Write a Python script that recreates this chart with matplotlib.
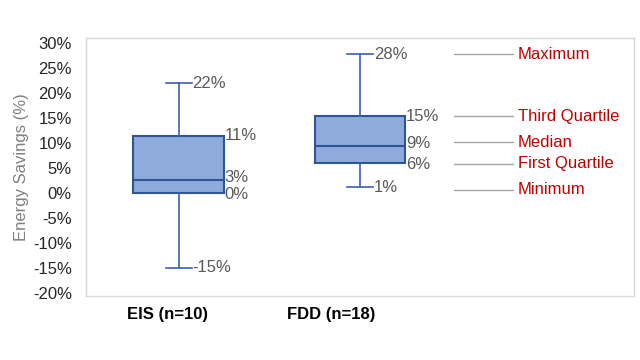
import matplotlib
matplotlib.use("Agg")
from matplotlib import pyplot as plt
from matplotlib.ticker import PercentFormatter

plt.rcParams['font.family'] = ['Liberation Sans', 'DejaVu Sans']
plt.rcParams['axes.unicode_minus'] = False

# box plot summary values (fractions)
groups = ['EIS (n=10)', 'FDD (n=18)']
minimum = [-0.15, 0.011]
first_quartile = [0.0, 0.060]
median = [0.026, 0.094]
third_quartile = [0.114, 0.153]
maximum = [0.219, 0.277]

# legend captions for the right-hand key (tied to the FDD box)
key_names = ['Maximum', 'Third Quartile', 'Median', 'First Quartile', 'Minimum']

yticks = [-0.20, -0.15, -0.10, -0.05, 0.0, 0.05, 0.10, 0.15, 0.20, 0.25, 0.30]

box_face = '#8FAADC'
box_edge = '#2F5597'
whisker = '#3A62B0'
label_gray = '#595959'
key_red = '#C00000'

fig = plt.figure(figsize=(6.4, 3.6), dpi=100)
ax = fig.add_axes([0.134, 0.178, 0.856, 0.717])

positions = [1, 2]
stats = []
for i in range(len(groups)):
    stats.append({'med': median[i], 'q1': first_quartile[i], 'q3': third_quartile[i],
                  'whislo': minimum[i], 'whishi': maximum[i], 'fliers': [],
                  'label': groups[i]})

ax.bxp(stats, positions=positions, widths=0.5, capwidths=0.143, patch_artist=True,
       showfliers=False,
       boxprops=dict(facecolor=box_face, edgecolor=box_edge, linewidth=1.5),
       medianprops=dict(color=box_edge, linewidth=1.5),
       whiskerprops=dict(color=whisker, linewidth=1.2),
       capprops=dict(color=whisker, linewidth=1.2))

# data labels next to each box / whisker cap
for i, x in enumerate(positions):
    for v in (maximum[i], minimum[i]):
        ax.text(x + 0.075, v, f"{v:.0%}", ha='left', va='center',
                fontsize=12, color=label_gray)
    # push median / Q1 labels apart a little when they crowd each other
    nudge = 0.004 if median[i] - first_quartile[i] < 0.04 else 0.0
    for v, dy in ((third_quartile[i], 0.0), (median[i], nudge),
                  (first_quartile[i], -nudge)):
        ax.text(x + 0.252, v + dy, f"{v:.0%}", ha='left', va='center',
                fontsize=12, color=label_gray)

# key on the right
fdd = [maximum[1], third_quartile[1], median[1] + 0.007, first_quartile[1] - 0.002,
       minimum[1] - 0.005]
for name, v in zip(key_names, fdd):
    ax.plot([2.52, 2.84], [v, v], color='#A6A6A6', linewidth=1.0)
    ax.text(2.87, v, name, ha='left', va='center', fontsize=12, color=key_red)

ax.set_xlim(0.488, 3.507)
ax.set_ylim(-0.206, 0.31)
ax.set_yticks(yticks)
ax.yaxis.set_major_formatter(PercentFormatter(1.0, decimals=0))
ax.tick_params(axis='y', length=0, pad=10, labelsize=12, labelcolor='#262626')
ax.set_xticks([])
for s in ax.spines.values():
    s.set_color('#D9D9D9')
    s.set_linewidth(1.0)

for x, name in zip([0.94, 1.84], groups):
    ax.text(x, -0.228, name, ha='center', va='top', fontsize=12,
            fontweight='bold', color='black')

ax.set_ylabel('Energy Savings (%)', fontsize=12, color='#7F7F7F', labelpad=3)

fig.savefig('out.png', dpi=100)
